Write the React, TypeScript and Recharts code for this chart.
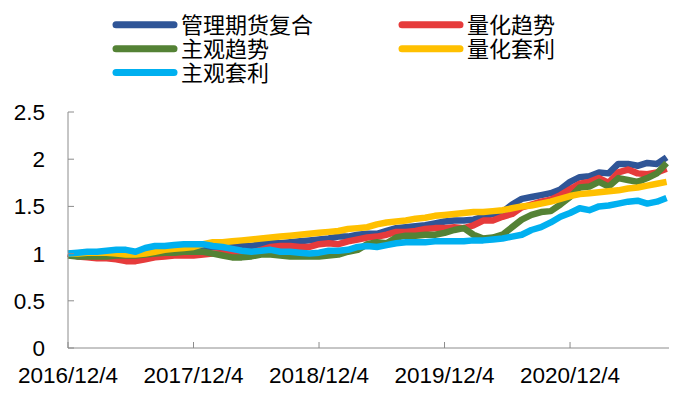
import React from 'react'
import { LineChart, Line, XAxis, YAxis } from 'recharts'

// weekly net values, sampled every 4 weeks from 2016/12/4
const seriesNames = ['管理期货复合', '量化趋势', '主观趋势', '量化套利', '主观套利']

const composite = [
  1.00, 0.99, 0.99, 0.99, 0.99, 0.98, 0.98, 0.98, 0.99, 1.00, 1.01, 1.02, 1.04, 1.05, 1.07, 1.07,
  1.06, 1.07, 1.08, 1.08, 1.10, 1.11, 1.11, 1.12, 1.13, 1.14, 1.15, 1.16, 1.18, 1.18, 1.20, 1.21,
  1.21, 1.24, 1.27, 1.28, 1.29, 1.30, 1.32, 1.34, 1.35, 1.35, 1.36, 1.39, 1.42, 1.44, 1.52, 1.58,
  1.60, 1.62, 1.64, 1.68, 1.76, 1.81, 1.82, 1.86, 1.85, 1.95, 1.95, 1.93, 1.96, 1.95, 2.02,
]
const quantTrend = [
  1.00, 0.97, 0.96, 0.95, 0.95, 0.94, 0.92, 0.92, 0.94, 0.96, 0.97, 0.98, 0.98, 0.98, 0.99, 1.00,
  1.00, 1.00, 1.01, 1.01, 1.04, 1.07, 1.08, 1.08, 1.07, 1.07, 1.10, 1.11, 1.10, 1.13, 1.15, 1.17,
  1.18, 1.20, 1.23, 1.23, 1.24, 1.26, 1.27, 1.27, 1.28, 1.27, 1.30, 1.35, 1.35, 1.39, 1.42, 1.49,
  1.52, 1.55, 1.57, 1.62, 1.68, 1.74, 1.76, 1.80, 1.75, 1.86, 1.89, 1.85, 1.84, 1.86, 1.90,
]
const subjTrend = [
  0.98, 0.97, 0.97, 0.97, 0.97, 0.98, 0.98, 0.98, 0.99, 1.00, 1.01, 1.01, 1.02, 1.02, 1.02, 1.00,
  0.98, 0.96, 0.96, 0.97, 0.99, 0.99, 0.98, 0.97, 0.97, 0.97, 0.97, 0.98, 0.99, 1.02, 1.04, 1.10,
  1.12, 1.11, 1.17, 1.19, 1.19, 1.20, 1.20, 1.22, 1.25, 1.27, 1.20, 1.16, 1.17, 1.20, 1.28, 1.36,
  1.41, 1.44, 1.45, 1.52, 1.60, 1.70, 1.71, 1.76, 1.71, 1.80, 1.78, 1.76, 1.80, 1.85, 1.96,
]
const quantArb = [
  1.00, 1.00, 1.01, 1.01, 1.01, 1.00, 0.99, 0.99, 1.00, 1.02, 1.04, 1.05, 1.06, 1.07, 1.10, 1.12,
  1.12, 1.13, 1.14, 1.15, 1.16, 1.17, 1.18, 1.19, 1.20, 1.21, 1.22, 1.23, 1.24, 1.26, 1.27, 1.28,
  1.31, 1.33, 1.34, 1.35, 1.37, 1.38, 1.40, 1.41, 1.42, 1.43, 1.44, 1.44, 1.45, 1.46, 1.48, 1.50,
  1.51, 1.53, 1.55, 1.58, 1.61, 1.63, 1.64, 1.65, 1.66, 1.67, 1.69, 1.70, 1.72, 1.74, 1.76,
]
const subjArb = [
  1.00, 1.01, 1.02, 1.02, 1.03, 1.04, 1.04, 1.02, 1.06, 1.08, 1.08, 1.09, 1.10, 1.10, 1.10, 1.08,
  1.07, 1.05, 1.03, 1.02, 1.03, 1.04, 1.02, 1.02, 1.01, 1.00, 1.01, 1.03, 1.03, 1.04, 1.07, 1.08,
  1.07, 1.09, 1.11, 1.12, 1.12, 1.12, 1.13, 1.13, 1.13, 1.13, 1.14, 1.14, 1.15, 1.16, 1.18, 1.20,
  1.25, 1.28, 1.33, 1.39, 1.43, 1.48, 1.46, 1.50, 1.51, 1.53, 1.55, 1.56, 1.53, 1.55, 1.59,
]

const xTicks = [0, 52, 104, 156, 208]
const xTickLabels = ['2016/12/4', '2017/12/4', '2018/12/4', '2019/12/4', '2020/12/4']
const yTicks = [0, 0.5, 1, 1.5, 2, 2.5]

const colors = ['#2F5597', '#E63B3B', '#548235', '#FFC000', '#00B0F0']
const keys = ['composite', 'quantTrend', 'subjTrend', 'quantArb', 'subjArb']

const data = composite.map((v, i) => ({
  w: i * 4,
  composite: v,
  quantTrend: quantTrend[i],
  subjTrend: subjTrend[i],
  quantArb: quantArb[i],
  subjArb: subjArb[i],
}))

const axisColor = '#8c8c8c'
const tickFont = { fill: '#000', fontSize: 22.5, fontFamily: '"Liberation Sans", Arial, sans-serif' }

// legend: 2 columns, row-major
const legendPos = [
  { x: 113, y: 24.7 },
  { x: 399, y: 24.7 },
  { x: 113, y: 48.7 },
  { x: 399, y: 48.7 },
  { x: 113, y: 72.4 },
]

function ChartLegend() {
  return (
    <svg width={681} height={90} style={{ position: 'absolute', left: 0, top: 0 }}>
      {seriesNames.map((name, i) => {
        const p = legendPos[i]
        return (
          <g key={name}>
            <line x1={p.x + 3} x2={p.x + 61} y1={p.y} y2={p.y} stroke={colors[i]} strokeWidth={7} strokeLinecap="round" />
            <text
              x={p.x + 68}
              y={p.y + 8.5}
              fontSize={22}
              fontFamily='"Noto Sans CJK SC", sans-serif'
              fill="#000"
            >
              {name}
            </text>
          </g>
        )
      })}
    </svg>
  )
}

export default function App() {
  return (
    <div style={{ position: 'absolute', left: 0, top: 0, width: 681, height: 396, background: '#fff' }}>
      <LineChart width={681} height={396} data={data} margin={{ top: 112, right: 12, bottom: 0, left: 0 }}>
        <XAxis
          dataKey="w"
          type="number"
          domain={[0, 249]}
          ticks={xTicks}
          interval={0}
          tickFormatter={(v: number) => xTickLabels[xTicks.indexOf(v)]}
          height={48}
          stroke={axisColor}
          tickSize={-6}
          tickMargin={25}
          tick={tickFont}
        />
        <YAxis
          type="number"
          domain={[0, 2.5]}
          ticks={yTicks}
          interval={0}
          width={68}
          stroke={axisColor}
          tickSize={-6}
          tickMargin={29}
          tick={tickFont}
        />
        {keys.map((k, i) => (
          <Line
            key={k}
            dataKey={k}
            name={seriesNames[i]}
            type="linear"
            stroke={colors[i]}
            strokeWidth={6.5}
            strokeLinejoin="round"
            dot={false}
            isAnimationActive={false}
          />
        ))}
      </LineChart>
      <ChartLegend />
    </div>
  )
}
